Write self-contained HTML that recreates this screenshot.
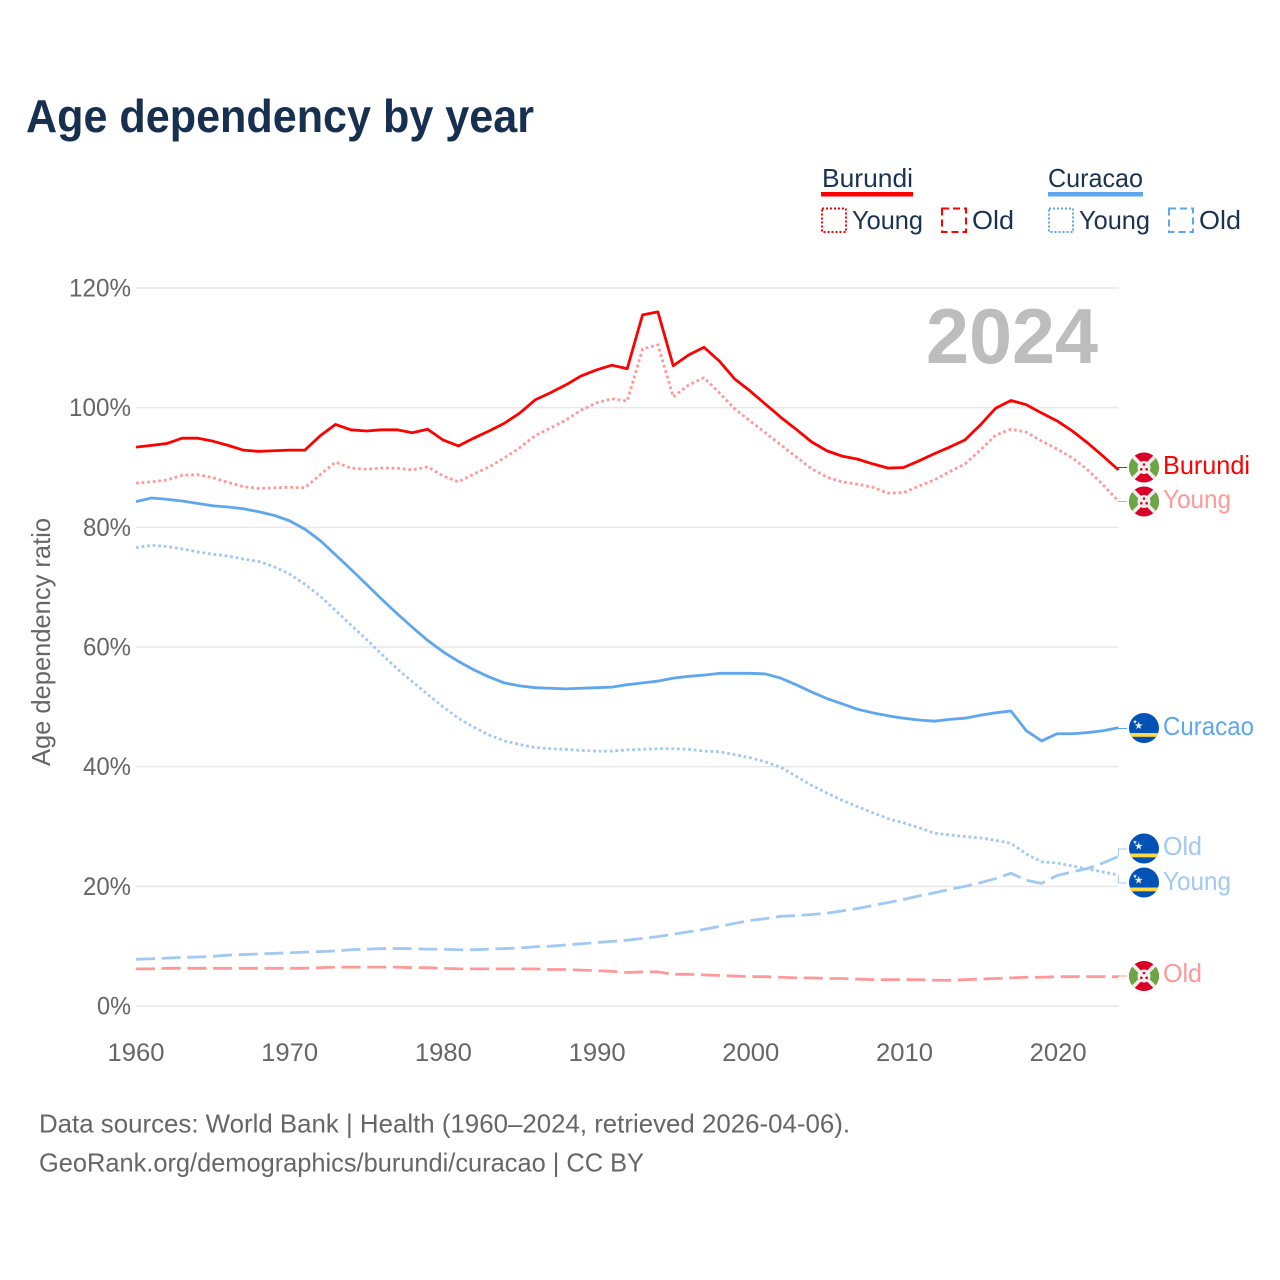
<!DOCTYPE html>
<html lang="en">
<head>
<meta charset="utf-8">
<title>Age dependency by year</title>
<style>
html,body{margin:0;padding:0;background:#fff;width:1280px;height:1280px;overflow:hidden}
svg{display:block}
text{font-family:"Liberation Sans",sans-serif}
</style>
</head>
<body>
<svg id="chart" xmlns="http://www.w3.org/2000/svg" width="1280" height="1280" viewBox="0 0 1280 1280">
  <defs>
    <g id="flag-burundi">
      <circle r="15" fill="#d80027"/>
      <path d="M0 0L-10.6-10.6A15 15 0 0 0-10.6 10.6ZM0 0L10.6-10.6A15 15 0 0 1 10.6 10.6Z" fill="#6da544"/>
      <path d="M-10.6-10.6L10.6 10.6M10.6-10.6L-10.6 10.6" stroke="#eee" stroke-width="3.6"/>
      <circle r="6.5" fill="#eee"/>
      <circle cx="0" cy="-3" r="1.3" fill="#d80027"/><circle cx="-2.7" cy="1.8" r="1.3" fill="#d80027"/><circle cx="2.7" cy="1.8" r="1.3" fill="#d80027"/>
    </g>
    <g id="flag-curacao">
      <clipPath id="flag-clip"><circle r="15"/></clipPath>
      <circle r="15" fill="#0052b4"/>
      <rect x="-15" y="5" width="30" height="3.8" fill="#ffda44" clip-path="url(#flag-clip)"/>
      <path d="M0-4.2L1-1.3L4-1.3L1.6 0.5L2.5 3.4L0 1.7L-2.5 3.4L-1.6 0.5L-4-1.3L-1-1.3Z" fill="#eee" transform="translate(-5.3,-2.3)"/>
      <path d="M0-2.2L0.55-0.7L2.1-0.7L0.85 0.25L1.3 1.8L0 0.9L-1.3 1.8L-0.85 0.25L-2.1-0.7L-0.55-0.7Z" fill="#eee" transform="translate(-9,-6.3)"/>
    </g>
  </defs>

  <text x="26" y="132" font-size="46" font-weight="700" fill="#17304f" textLength="508" lengthAdjust="spacingAndGlyphs">Age dependency by year</text>

  <g font-size="26" fill="#1a3352">
    <text x="822" y="187" textLength="91" lengthAdjust="spacingAndGlyphs">Burundi</text>
    <rect x="821" y="192" width="92" height="4.5" fill="#ff0000"/>
    <rect x="822" y="208.5" width="24" height="23.5" fill="none" stroke="#ff0000" stroke-width="2" stroke-dasharray="2 2"/>
    <text x="852" y="229" textLength="71" lengthAdjust="spacingAndGlyphs">Young</text>
    <rect x="942" y="208.5" width="24" height="23.5" fill="none" stroke="#ff0000" stroke-width="2" stroke-dasharray="7 4"/>
    <text x="972" y="229" textLength="42" lengthAdjust="spacingAndGlyphs">Old</text>
    <text x="1048" y="187" textLength="95" lengthAdjust="spacingAndGlyphs">Curacao</text>
    <rect x="1048" y="192" width="95" height="4.5" fill="#5ea6ee"/>
    <rect x="1049" y="208.5" width="24" height="23.5" fill="none" stroke="#5ea6ee" stroke-width="2" stroke-dasharray="2 2"/>
    <text x="1079" y="229" textLength="71" lengthAdjust="spacingAndGlyphs">Young</text>
    <rect x="1169" y="208.5" width="24" height="23.5" fill="none" stroke="#5ea6ee" stroke-width="2" stroke-dasharray="7 4"/>
    <text x="1199" y="229" textLength="42" lengthAdjust="spacingAndGlyphs">Old</text>
  </g>

  <g id="grid"></g>
  <g id="y-ticks"></g>
  <g id="x-ticks"></g>

  <text transform="translate(50,642) rotate(-90)" text-anchor="middle" font-size="26" fill="#666666" textLength="248" lengthAdjust="spacingAndGlyphs">Age dependency ratio</text>

  <text x="926" y="363" font-size="78" font-weight="700" fill="#bdbdbd" textLength="172" lengthAdjust="spacingAndGlyphs">2024</text>

  <g id="series"></g>
  <g id="connectors"></g>

  <g font-size="26">
    <use href="#flag-burundi" x="1144" y="467.5"/>
    <text x="1163" y="474" fill="#ff0000" textLength="87" lengthAdjust="spacingAndGlyphs">Burundi</text>
    <use href="#flag-burundi" x="1144" y="501.5"/>
    <text x="1163" y="508" fill="#ff9999" textLength="68" lengthAdjust="spacingAndGlyphs">Young</text>
    <use href="#flag-curacao" x="1144" y="728"/>
    <text x="1163" y="735" fill="#5ea6ee" textLength="91" lengthAdjust="spacingAndGlyphs">Curacao</text>
    <use href="#flag-curacao" x="1144" y="848.5"/>
    <text x="1163" y="855" fill="#a0c9f4" textLength="39" lengthAdjust="spacingAndGlyphs">Old</text>
    <use href="#flag-curacao" x="1144" y="882.5"/>
    <text x="1163" y="890" fill="#a0c9f4" textLength="68" lengthAdjust="spacingAndGlyphs">Young</text>
    <use href="#flag-burundi" x="1144" y="976"/>
    <text x="1163" y="982" fill="#ff9999" textLength="39" lengthAdjust="spacingAndGlyphs">Old</text>
  </g>

  <g font-size="26" fill="#666666">
    <text x="39" y="1132.5" textLength="811" lengthAdjust="spacingAndGlyphs">Data sources: World Bank | Health (1960–2024, retrieved 2026-04-06).</text>
    <text x="39" y="1171.5" textLength="605" lengthAdjust="spacingAndGlyphs">GeoRank.org/demographics/burundi/curacao | CC BY</text>
  </g>
</svg>

<script>
const years = [1960,1961,1962,1963,1964,1965,1966,1967,1968,1969,1970,1971,1972,1973,1974,1975,1976,1977,1978,1979,1980,1981,1982,1983,1984,1985,1986,1987,1988,1989,1990,1991,1992,1993,1994,1995,1996,1997,1998,1999,2000,2001,2002,2003,2004,2005,2006,2007,2008,2009,2010,2011,2012,2013,2014,2015,2016,2017,2018,2019,2020,2021,2022,2023,2024];
const burundiTotal = [93.4,93.7,94.0,94.9,94.9,94.4,93.7,92.9,92.7,92.8,92.9,92.9,95.3,97.2,96.3,96.1,96.3,96.3,95.8,96.4,94.6,93.6,94.9,96.1,97.4,99.1,101.3,102.5,103.8,105.3,106.3,107.1,106.5,115.5,116.0,107.0,108.8,110.1,107.8,104.8,102.8,100.6,98.4,96.4,94.3,92.8,91.9,91.4,90.6,89.9,90.0,91.1,92.3,93.4,94.6,97.1,99.9,101.2,100.5,99.1,97.8,96.1,94.1,91.9,89.6];
const burundiYoung = [87.4,87.6,87.9,88.7,88.8,88.3,87.5,86.8,86.5,86.6,86.7,86.6,88.8,90.9,89.9,89.7,89.9,89.9,89.6,90.1,88.6,87.6,88.9,90.1,91.6,93.3,95.3,96.6,97.9,99.6,100.8,101.5,101.1,109.8,110.5,101.8,103.8,105.0,102.5,99.8,97.8,95.8,93.8,91.8,89.8,88.4,87.6,87.2,86.7,85.7,85.8,86.9,87.9,89.3,90.6,92.9,95.4,96.4,95.9,94.4,93.1,91.6,89.6,87.1,84.4];
const burundiOld = [6.2,6.2,6.3,6.3,6.3,6.3,6.3,6.3,6.3,6.3,6.3,6.3,6.4,6.5,6.5,6.5,6.5,6.5,6.4,6.4,6.3,6.2,6.2,6.2,6.2,6.2,6.2,6.1,6.1,6.0,5.9,5.8,5.6,5.7,5.7,5.3,5.3,5.2,5.1,5.0,4.9,4.9,4.8,4.7,4.7,4.6,4.6,4.5,4.4,4.4,4.4,4.4,4.3,4.3,4.4,4.5,4.6,4.7,4.8,4.8,4.9,4.9,4.9,4.9,4.9];
const curacaoTotal = [84.3,84.9,84.7,84.4,84.0,83.6,83.4,83.1,82.6,82.0,81.1,79.7,77.8,75.4,73.0,70.5,68.0,65.6,63.3,61.1,59.2,57.6,56.2,55.0,54.0,53.5,53.2,53.1,53.0,53.1,53.2,53.3,53.7,54.0,54.3,54.8,55.1,55.3,55.6,55.6,55.6,55.5,54.8,53.7,52.5,51.4,50.5,49.6,49.0,48.5,48.1,47.8,47.6,47.9,48.1,48.6,49.0,49.3,46.0,44.3,45.5,45.5,45.7,46.0,46.5];
const curacaoYoung = [76.6,77.0,76.8,76.4,75.9,75.5,75.2,74.7,74.3,73.4,72.2,70.5,68.5,66.1,63.7,61.3,58.8,56.4,54.2,52.1,50.0,48.1,46.6,45.3,44.3,43.7,43.2,43.0,42.9,42.7,42.6,42.6,42.8,42.9,43.0,43.0,42.9,42.6,42.5,42.0,41.5,40.8,39.9,38.4,36.9,35.6,34.4,33.3,32.3,31.3,30.6,29.8,28.9,28.6,28.3,28.1,27.7,27.2,25.4,24.1,23.9,23.4,22.9,22.4,21.9];
const curacaoOld = [7.8,7.9,8.0,8.1,8.2,8.3,8.5,8.6,8.7,8.8,8.9,9.0,9.1,9.2,9.4,9.5,9.6,9.6,9.6,9.5,9.5,9.4,9.4,9.5,9.6,9.7,9.9,10.0,10.2,10.4,10.6,10.8,11.0,11.3,11.6,12.0,12.4,12.8,13.3,13.8,14.3,14.6,15.0,15.1,15.3,15.5,15.9,16.3,16.8,17.3,17.8,18.4,18.9,19.5,20.0,20.6,21.3,22.2,21.0,20.5,21.8,22.4,23.0,23.9,25.0];
const yTickValues = [0,20,40,60,80,100,120];
const yTickLabels = ["0%","20%","40%","60%","80%","100%","120%"];
const xTickValues = [1960,1970,1980,1990,2000,2010,2020];
const xTickLabels = ["1960","1970","1980","1990","2000","2010","2020"];

const NS = "http://www.w3.org/2000/svg";
function xScale(year){ return 136 + (year - 1960) * 15.35; }
function yScale(v){ return 1006 - v * (718 / 120); }
function xTickScale(year){ return 136 + (year - 1960) * 15.37; }
function make(tag, parentId){
  const el = document.createElementNS(NS, tag);
  document.getElementById(parentId).appendChild(el);
  return el;
}

yTickValues.forEach(function(v, i){
  const line = make("line", "grid");
  
  
  line.setAttribute("x1", xScale(1960));
  line.setAttribute("x2", xScale(2024));
  line.setAttribute("y1", yScale(v));
  line.setAttribute("y2", yScale(v));
  line.setAttribute("stroke", "#e8e8e8");
  line.setAttribute("stroke-width", "1.5");

  const label = make("text", "y-ticks");
  
  
  label.setAttribute("x", 131);
  label.setAttribute("y", yScale(v) + 8.5);
  label.setAttribute("text-anchor", "end");
  label.setAttribute("font-size", "25");
  label.setAttribute("fill", "#666666");
  label.setAttribute("textLength", yTickLabels[i].length * 14 + 6);
  label.setAttribute("lengthAdjust", "spacingAndGlyphs");
  label.textContent = yTickLabels[i];
});

xTickValues.forEach(function(v, i){
  const label = make("text", "x-ticks");
  
  
  label.setAttribute("x", xTickScale(v));
  label.setAttribute("y", 1061);
  label.setAttribute("text-anchor", "middle");
  label.setAttribute("font-size", "25");
  label.setAttribute("fill", "#666666");
  label.setAttribute("textLength", "57");
  label.setAttribute("lengthAdjust", "spacingAndGlyphs");
  label.textContent = xTickLabels[i];
});

function drawLine(values, name, color, dash){
  const path = make("path", "series");
  
  
  path.setAttribute("d", values.map(function(v, i){
    return (i ? "L" : "M") + xScale(years[i]).toFixed(2) + " " + yScale(v).toFixed(2);
  }).join(""));
  path.setAttribute("fill", "none");
  path.setAttribute("stroke", color);
  path.setAttribute("stroke-width", "2.8");
  path.setAttribute("stroke-linejoin", "round");
  if (dash) path.setAttribute("stroke-dasharray", dash);
}
drawLine(burundiOld, "line-burundi-old", "#ff9999", "19 6.7");
drawLine(curacaoOld, "line-curacao-old", "#a0c9f4", "19 6.7");
drawLine(curacaoYoung, "line-curacao-young", "#a0c9f4", "2.8 2.8");
drawLine(burundiYoung, "line-burundi-young", "#ff9999", "2.8 2.8");
drawLine(curacaoTotal, "line-curacao-total", "#5ea6ee", null);
drawLine(burundiTotal, "line-burundi-total", "#ff0000", null);

function drawConnector(values, labelY, name, color){
  const path = make("path", "connectors");
  
  
  const x0 = xScale(years[years.length - 1]);
  const y0 = yScale(values[values.length - 1]);
  path.setAttribute("d", "M" + x0 + " " + y0 + "L" + x0 + " " + labelY + "L1127 " + labelY);
  path.setAttribute("fill", "none");
  path.setAttribute("stroke", color);
  path.setAttribute("stroke-width", "1");
}
drawConnector(burundiTotal, 467.5, "connector-burundi-total", "#ff0000");
drawConnector(burundiYoung, 501.5, "connector-burundi-young", "#ff9999");
drawConnector(curacaoTotal, 728.5, "connector-curacao-total", "#5ea6ee");
drawConnector(curacaoOld, 849, "connector-curacao-old", "#a0c9f4");
drawConnector(curacaoYoung, 883, "connector-curacao-young", "#a0c9f4");
drawConnector(burundiOld, 976, "connector-burundi-old", "#ff9999");
</script>
</body>
</html>
